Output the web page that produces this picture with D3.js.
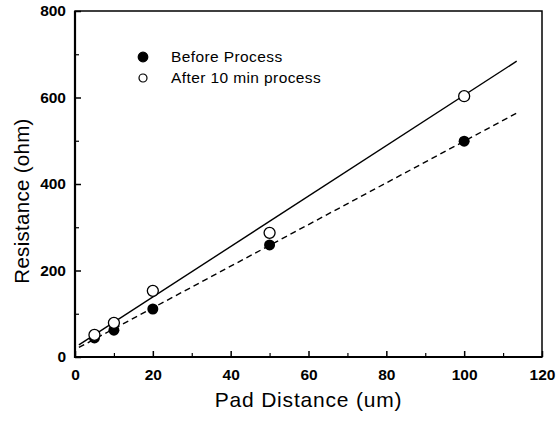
<!DOCTYPE html>
<html>
<head>
<meta charset="utf-8">
<script src="https://cdn.jsdelivr.net/npm/d3@7"></script>
<style>
  body { margin: 0; background: #fff; }
  svg { display: block; font-family: "Liberation Sans", Arial, sans-serif; }
  .tick text { font-weight: bold; font-size: 15.5px; fill: #000; }
  .domain { display: none; }
</style>
</head>
<body>
<div id="chart"></div>
<script>
// Data
let distances = [5, 10, 20, 50, 100];
let beforeProcess = [44, 62, 111, 259, 499];
let afterProcess = [51, 79, 153, 287, 603];
let seriesNames = ["Before Process", "After 10 min process"];
// fitted lines, endpoints [x, y]
let afterFit = [[1, 28], [113.5, 684]];
let beforeFit = [[1, 22], [113.5, 564]];
let xTicks = [0, 20, 40, 60, 80, 100, 120];
let xMinor = [10, 30, 50, 70, 90, 110];
let yTicks = [0, 200, 400, 600, 800];
let yMinor = [100, 300, 500, 700];

// Set dimensions
let width = 557,
    height = 421;
let margin = {top: 11, right: 15, bottom: 64, left: 75};

let svg = d3.select("#chart")
    .append("svg")
        .attr("width", width)
        .attr("height", height);

let x = d3.scaleLinear().domain([0, 120]).range([margin.left, width - margin.right]);
let y = d3.scaleLinear().domain([0, 800]).range([height - margin.bottom, margin.top]);

// Axes (ticks point inwards)
svg.append("g")
    .attr("transform", `translate(0,${y(0)})`)
    .call(d3.axisBottom(x).tickValues(xTicks).tickSizeInner(-6).tickSizeOuter(0).tickPadding(12))
    .call(g => g.selectAll("line").attr("stroke-width", 1.5));
svg.append("g")
    .attr("transform", `translate(0,${y(0)})`)
    .call(d3.axisBottom(x).tickValues(xMinor).tickSizeInner(-4).tickSizeOuter(0).tickFormat(""))
    .call(g => g.selectAll("line").attr("stroke-width", 1.2));
svg.append("g")
    .attr("transform", `translate(${x(0)},0)`)
    .call(d3.axisLeft(y).tickValues(yTicks).tickSizeInner(-6).tickSizeOuter(0).tickPadding(9))
    .call(g => g.selectAll("line").attr("stroke-width", 1.5));
svg.append("g")
    .attr("transform", `translate(${x(0)},0)`)
    .call(d3.axisLeft(y).tickValues(yMinor).tickSizeInner(-4).tickSizeOuter(0).tickFormat(""))
    .call(g => g.selectAll("line").attr("stroke-width", 1.2));

// Frame
svg.append("rect")
    .attr("x", x(0))
    .attr("y", y(800))
    .attr("width", x(120) - x(0))
    .attr("height", y(0) - y(800))
    .attr("fill", "none")
    .attr("stroke", "#000")
    .attr("stroke-width", 1.5);
svg.append("path")
    .attr("d", `M${x(0)},${y(800)}V${y(0)}H${x(120)}`)
    .attr("fill", "none")
    .attr("stroke", "#000")
    .attr("stroke-width", 2.2);

// Fit lines
let line = d3.line().x(d => x(d[0])).y(d => y(d[1]));
svg.append("path")
    .attr("d", line(afterFit))
    .attr("fill", "none")
    .attr("stroke", "#000")
    .attr("stroke-width", 1.4);
svg.append("path")
    .attr("d", line(beforeFit))
    .attr("fill", "none")
    .attr("stroke", "#000")
    .attr("stroke-width", 1.4)
    .attr("stroke-dasharray", "6,4");

// Points
let afterPts = distances.map((d, i) => [d, afterProcess[i]]);
let beforePts = distances.map((d, i) => [d, beforeProcess[i]]);
svg.selectAll(".before")
    .data(beforePts)
    .join("circle")
        .attr("class", "before")
        .attr("cx", d => x(d[0]))
        .attr("cy", d => y(d[1]))
        .attr("r", 5.5)
        .attr("fill", "#000");
svg.selectAll(".after")
    .data(afterPts)
    .join("circle")
        .attr("class", "after")
        .attr("cx", d => x(d[0]))
        .attr("cy", d => y(d[1]))
        .attr("r", 5.5)
        .attr("fill", "#fff")
        .attr("stroke", "#000")
        .attr("stroke-width", 1.3);

// Legend
let legend = svg.append("g").attr("transform", "translate(143,57)");
seriesNames.forEach((name, i) => {
    legend.append("circle")
        .attr("cx", 0)
        .attr("cy", i * 21)
        .attr("r", i === 0 ? 4.8 : 4)
        .attr("fill", i === 0 ? "#000" : "#fff")
        .attr("stroke", "#000")
        .attr("stroke-width", 1.2);
    legend.append("text")
        .attr("x", 28)
        .attr("y", i * 21 + 5)
        .attr("font-size", 15.5)
        .attr("letter-spacing", 0.4)
        .text(name);
});

// Axis titles
svg.append("text")
    .attr("x", (x(0) + x(120)) / 2)
    .attr("y", 407)
    .attr("text-anchor", "middle")
    .attr("font-size", 21)
    .attr("letter-spacing", 0.8)
    .text("Pad Distance (um)");
svg.append("text")
    .attr("transform", "translate(29,201) rotate(-90)")
    .attr("text-anchor", "middle")
    .attr("font-size", 20.5)
    .attr("letter-spacing", 0.3)
    .text("Resistance (ohm)");
</script>
</body>
</html>
